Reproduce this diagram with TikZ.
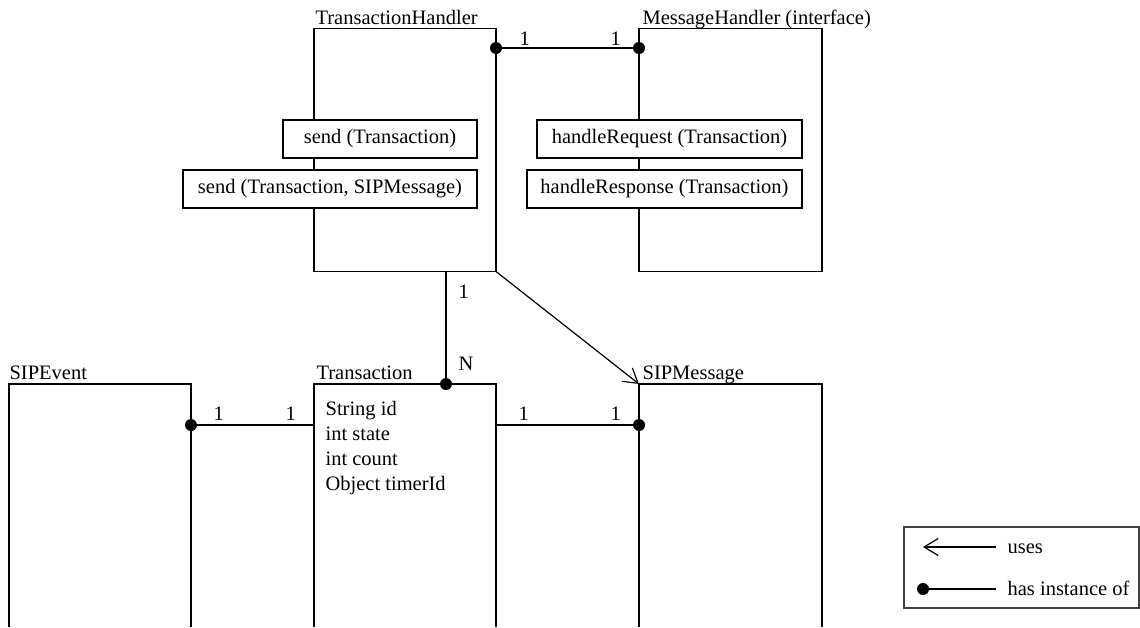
\documentclass[tikz,border=0pt]{standalone}
\usepackage{fontspec}
\setmainfont{Liberation Serif}
\usetikzlibrary{arrows.meta}
\begin{document}
\begin{tikzpicture}[x=1pt,y=-1pt,line width=1.2pt,
  txt/.style={font=\fontsize{20.5}{25}\selectfont,inner sep=0pt,anchor=base west},
  mbox/.style={draw,fill=white,font=\fontsize{20.5}{25}\selectfont,inner sep=0pt,minimum height=38pt},
  cls/.style={draw,inner sep=0pt,minimum width=182pt,minimum height=243pt},
  dotn/.style={circle,fill=black,inner sep=0pt,minimum size=12pt},
  usesarrow/.style={-{Straight Barb[length=14pt,width=17pt,line width=1.2pt]}}]
\useasboundingbox (0,0) rectangle (1140,627);
% top classes
\node[cls] (th) at (405,150) {};
\node[cls,minimum width=183pt] (mh) at (730.5,150) {};
\node[txt] (thl) at (315,24) {TransactionHandler};
\node[txt] (mhl) at (642,24) {MessageHandler (interface)};
% methods
\node[mbox,minimum width=194pt] (s1) at (380,139) {send (Transaction)};
\node[mbox,minimum width=294pt] (s2) at (330,189) {send (Transaction, SIPMessage)};
\node[mbox,minimum width=265pt] (h1) at (669.5,139) {handleRequest (Transaction)};
\node[mbox,minimum width=275pt] (h2) at (664.5,189) {handleResponse (Transaction)};
% bottom classes (open at bottom)
\draw (9,627) -- (9,384) -- (191,384) -- (191,627);
\draw (314,627) -- (314,384) -- (496,384) -- (496,627);
\draw (639,627) -- (639,384) -- (822,384) -- (822,627);
\node[txt] (sel) at (9,379) {SIPEvent};
\node[txt] (trl) at (316,379) {Transaction};
\node[txt] (sml) at (642,379) {SIPMessage};
\node[txt] (f1) at (325,415) {String id};
\node[txt] (f2) at (325,440) {int state};
\node[txt] (f3) at (325,465) {int count};
\node[txt] (f4) at (325,490) {Object timerId};
% dots and connector points
\node[dotn] (d1) at (496,48) {};
\node[dotn] (d2) at (639,48) {};
\node[dotn] (d3) at (446,384) {};
\node[dotn] (d4) at (191,425) {};
\node[dotn] (d5) at (639,425) {};
\coordinate (thb) at (446,271.5);
\coordinate (thc) at (496,271.5);
\coordinate (smt) at (639,384);
\coordinate (trl1) at (314,425);
\coordinate (trr1) at (496,425);
\draw (d1.center) -- (d2.center);
\draw (thb) -- (d3.center);
\draw (d4.center) -- (trl1);
\draw (trr1) -- (d5.center);
\draw[usesarrow] (thc) -- (smt);
% multiplicities
\node[txt] (m1) at (519,45) {1};
\node[txt] (m2) at (610,45) {1};
\node[txt] (m3) at (458,298) {1};
\node[txt] (m4) at (458,370) {N};
\node[txt] (m5) at (213,420) {1};
\node[txt] (m6) at (285,420) {1};
\node[txt] (m7) at (518,420) {1};
\node[txt] (m8) at (610,420) {1};
% legend
\node[draw=black!75,line width=1.5pt,inner sep=0pt,minimum width=235pt,minimum height=81pt] (leg) at (1021.5,567.5) {};
\coordinate (ua) at (996,547);
\coordinate (ub) at (923,547);
\draw[usesarrow] (ua) -- (ub);
\node[dotn] (hd) at (923,589) {};
\coordinate (hb) at (996,589);
\draw (hd.center) -- (hb);
\node[txt] (lu) at (1007,553) {uses};
\node[txt] (lh) at (1007,595) {has instance of};
\end{tikzpicture}
\end{document}
